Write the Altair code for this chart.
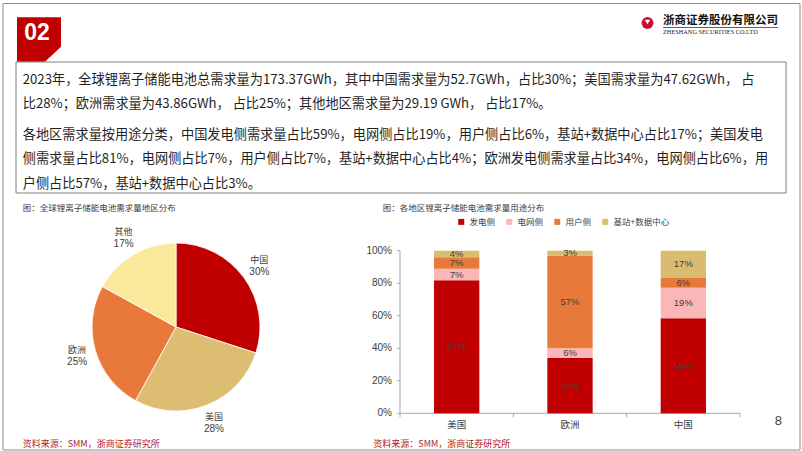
import altair as alt
import pandas as pd

# ---------------- data ----------------
pie_regions = ["中国", "美国", "欧洲", "其他"]
pie_shares = [30, 28, 25, 17]
pie_colors = ["#C00000", "#DCBD72", "#E8793B", "#FAE89B"]

bar_regions = ["美国", "欧洲", "中国"]
uses = ["发电侧", "电网侧", "用户侧", "基站+数据中心"]
use_colors = ["#C00000", "#FBB7B7", "#E8793B", "#D9BC70"]
us_shares = [81, 7, 7, 4]
eu_shares = [34, 6, 57, 3]
cn_shares = [59, 19, 6, 17]
y_ticks = [0, 0.2, 0.4, 0.6, 0.8, 1.0]
x_tick_index = [0, 1, 2, 3]

summary_lines = [
    "2023年，全球锂离子储能电池总需求量为173.37GWh，其中中国需求量为52.7GWh，占比30%；美国需求量为47.62GWh，  占",
    "比28%；欧洲需求量为43.86GWh，  占比25%；其他地区需求量为29.19 GWh，  占比17%。",
    "各地区需求量按用途分类，中国发电侧需求量占比59%，电网侧占比19%，用户侧占比6%，基站+数据中心占比17%；美国发电",
    "侧需求量占比81%，电网侧占比7%，用户侧占比7%，基站+数据中心占比4%；欧洲发电侧需求量占比34%，电网侧占比6%，用",
    "户侧占比57%，基站+数据中心占比3%。",
]
pie_title = "图：全球锂离子储能电池需求量地区分布"
bar_title = "图：各地区锂离子储能电池需求量用途分布"
source_text = "资料来源：SMM，浙商证券研究所"
company_cn = "浙商证券股份有限公司"
company_en = "ZHESHANG SECURITIES CO.LTD"
section_no = "02"
page_no = "8"

# ---------------- tables ----------------
pie_df = pd.DataFrame({
    "region": pie_regions,
    "share": pie_shares,
    "idx": list(range(len(pie_regions))),
    "pct": [f"{v}%" for v in pie_shares],
})

rows = []
for reg, vals in zip(bar_regions, [us_shares, eu_shares, cn_shares]):
    for k, (u, v) in enumerate(zip(uses, vals)):
        rows.append({"region": reg, "use": u, "v": v, "k": k, "label": f"{v}%"})
bar_df = pd.DataFrame(rows)
ytick_df = pd.DataFrame({"t": y_ticks})
xtick_df = pd.DataFrame({"i": x_tick_index})
xlab_df = pd.DataFrame({"region": bar_regions})

dummy = pd.DataFrame({"a": [0]})

CJK = "Noto Sans CJK SC"
LAT = "Liberation Sans"
GREY = "#404040"
AXIS = "#A6A6A6"


def txt(text, x, y, size, color=GREY, font=CJK, weight="normal", align="left"):
    return alt.Chart(dummy).mark_text(
        text=text, align=align, baseline="middle", fontSize=size,
        color=color, font=font, fontWeight=weight
    ).encode(x=alt.value(x), y=alt.value(y))


layers = []

# outer frame
layers.append(alt.Chart(dummy).mark_rect(fillOpacity=0, stroke="#8C8C8C", strokeWidth=1).encode(
    x=alt.value(3), x2=alt.value(800), y=alt.value(3.5), y2=alt.value(450)))

# section tab
tab_path = "M -1 -1 L 1 -1 L 1 0.34 L 0.27 1.02 L -1 1.02 Z"
layers.append(alt.Chart(dummy).mark_point(shape=tab_path, size=1936, filled=True, fill="#C00000",
                                          opacity=1, strokeWidth=0).encode(
    x=alt.value(39), y=alt.value(39.3)))
layers.append(txt(section_no, 37, 33, 23, color="white", font=LAT, weight="bold", align="center"))

# logo
layers.append(alt.Chart(dummy).mark_point(shape="circle", size=140, filled=True, fill="#C8102E",
                                          opacity=1, strokeWidth=0).encode(
    x=alt.value(647.5), y=alt.value(23)))
layers.append(alt.Chart(dummy).mark_point(shape="triangle-down", size=30, filled=True, fill="white",
                                          opacity=1, strokeWidth=0).encode(
    x=alt.value(647.5), y=alt.value(22)))
layers.append(txt(company_cn, 663, 21, 11.5, color="#111111", weight="bold"))
layers.append(alt.Chart(dummy).mark_rule(color="#C00000", strokeWidth=0.8).encode(
    x=alt.value(663), x2=alt.value(778), y=alt.value(27.5)))
layers.append(txt(company_en, 663, 31.5, 6.3, color="#222222", font="Liberation Serif"))

# summary box
layers.append(alt.Chart(dummy).mark_rect(fillOpacity=0, stroke="#7F7F7F", strokeWidth=1).encode(
    x=alt.value(16), x2=alt.value(786), y=alt.value(62), y2=alt.value(193)))
line_y = [80, 104.3, 135, 159.3, 183.5]
for line, yy in zip(summary_lines, line_y):
    layers.append(txt(line, 22.7, yy, 13.2, color="#1F1F1F"))

# chart titles & sources
layers.append(txt(pie_title, 22.7, 207.7, 8.5))
layers.append(txt(bar_title, 382.7, 207.7, 8.5))
layers.append(txt(source_text, 22.7, 444, 9, color="#B22222"))
layers.append(txt(source_text, 373.3, 444, 9, color="#B22222"))
layers.append(txt(page_no, 778.3, 421, 13, color=GREY, font=LAT, align="center"))

# ---------------- pie ----------------
pie_base = alt.Chart(pie_df).encode(
    theta=alt.Theta("share:Q", stack=True),
    order=alt.Order("idx:Q"),
    x=alt.value(176), y=alt.value(327),
)
pie = pie_base.mark_arc(outerRadius=84, stroke="white", strokeWidth=0.8).encode(
    color=alt.Color("region:N", scale=alt.Scale(domain=pie_regions, range=pie_colors), legend=None)
)
pie_names = pie_base.mark_text(radius=103, dy=-6, fontSize=9, font=CJK, color=GREY).encode(
    text="region:N")
pie_pcts = pie_base.mark_text(radius=103, dy=6, fontSize=10, font=LAT, color=GREY).encode(
    text="pct:N")
layers += [pie, pie_names, pie_pcts]

# ---------------- stacked bars ----------------
X0, X1 = 400, 740
YB, YT = 413.3, 250.7


def xscale():
    return alt.Scale(domain=bar_regions, range=[X0, X1], paddingInner=0.6, paddingOuter=0.3)


def yscale():
    return alt.Scale(domain=[0, 1], range=[YB, YT])


# axis lines
layers.append(alt.Chart(dummy).mark_rule(color=AXIS, strokeWidth=1).encode(
    x=alt.value(X0), y=alt.value(YB), y2=alt.value(YT)))
layers.append(alt.Chart(dummy).mark_rule(color=AXIS, strokeWidth=1).encode(
    x=alt.value(X0), x2=alt.value(X1), y=alt.value(YB)))
# y ticks and labels
layers.append(alt.Chart(ytick_df).mark_rule(color=AXIS, strokeWidth=1).encode(
    y=alt.Y("t:Q", scale=yscale(), axis=None), x=alt.value(X0 - 3), x2=alt.value(X0)))
layers.append(alt.Chart(ytick_df).mark_text(align="right", baseline="middle", fontSize=10,
                                            font=LAT, color=GREY).encode(
    y=alt.Y("t:Q", scale=yscale(), axis=None), x=alt.value(X0 - 8),
    text=alt.Text("t:Q", format=".0%")))
# x ticks at category boundaries and labels
layers.append(alt.Chart(xtick_df).mark_rule(color=AXIS, strokeWidth=1).encode(
    x=alt.X("i:Q", scale=alt.Scale(domain=[0, 3], range=[X0, X1]), axis=None),
    y=alt.value(YB), y2=alt.value(YB + 4)))
layers.append(alt.Chart(xlab_df).mark_text(baseline="middle", fontSize=9.5, font=CJK, color=GREY).encode(
    x=alt.X("region:N", sort=bar_regions, scale=xscale(), axis=None),
    y=alt.value(425), text="region:N"))

bar_base = alt.Chart(bar_df).transform_stack(
    stack="v", groupby=["region"], as_=["y0", "y1"],
    sort=[alt.SortField("k", order="ascending")], offset="normalize"
).transform_calculate(mid="(datum.y0 + datum.y1) / 2")

bars = bar_base.mark_bar().encode(
    x=alt.X("region:N", sort=bar_regions, scale=xscale(), axis=None),
    y=alt.Y("y0:Q", scale=yscale(), axis=None),
    y2="y1:Q",
    color=alt.Color("use:N", scale=alt.Scale(domain=uses, range=use_colors),
                    legend=alt.Legend(orient="none", legendX=457, legendY=217.5, direction="horizontal",
                                      title=None, symbolType="square", symbolSize=36,
                                      symbolStrokeWidth=0, labelFont=CJK, labelFontSize=8.5,
                                      labelColor=GREY, columnPadding=9, labelOffset=4)),
    order=alt.Order("k:Q"),
)
bar_labels = bar_base.mark_text(fontSize=9.5, font=LAT, color=GREY, baseline="middle").encode(
    x=alt.X("region:N", sort=bar_regions, scale=xscale(), axis=None),
    y=alt.Y("mid:Q", scale=yscale(), axis=None),
    text="label:N",
)
layers += [bars, bar_labels]

chart = alt.layer(*layers).resolve_scale(
    x="independent", y="independent", color="independent"
).properties(
    width=802, height=451, autosize=alt.AutoSizeParams(type="none"), padding=0,
    background="white",
).configure_view(stroke=None)

chart.save("out.html", embed_options={"renderer": "svg", "actions": False})
